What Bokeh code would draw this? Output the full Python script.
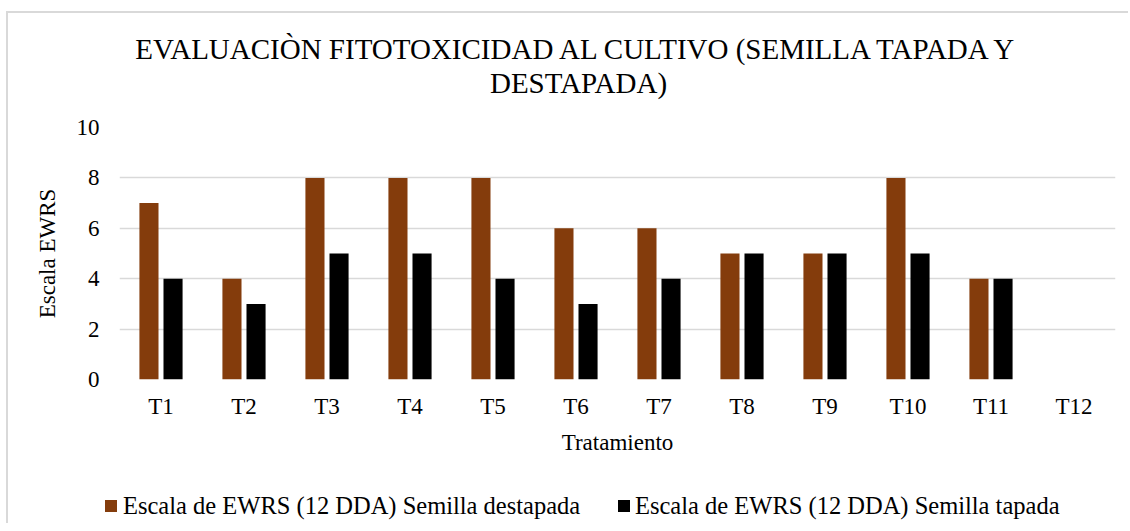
from bokeh.plotting import figure
from bokeh.layouts import column
from bokeh.models import ColumnDataSource, FactorRange, Range1d, SingleIntervalTicker, Div
from bokeh.core.properties import value
from bokeh.transform import dodge
from bokeh.embed import file_html
from bokeh.resources import INLINE

title_lines = ["EVALUACIÒN FITOTOXICIDAD AL CULTIVO (SEMILLA TAPADA Y", "DESTAPADA)"]
categories = ["T1", "T2", "T3", "T4", "T5", "T6", "T7", "T8", "T9", "T10", "T11", "T12"]
destapada = [7, 4, 8, 8, 8, 6, 6, 5, 5, 8, 4, 0]
tapada = [4, 3, 5, 5, 4, 3, 4, 5, 5, 5, 4, 0]
series_names = ["Escala de EWRS (12 DDA) Semilla destapada", "Escala de EWRS (12 DDA) Semilla tapada"]
colors = ["#843C0C", "#000000"]

FONT = "Liberation Serif"
W = 1120
BL, BR = 111, 13  # left/right borders of the plotting frame

# title strip: its frame is aligned with the chart frame, x range in page pixels
tf = figure(x_range=Range1d(8 + BL, 8 + W - BR), y_range=Range1d(0, 100), width=W, height=100,
            output_backend="svg", toolbar_location=None, min_border_left=BL, min_border_right=BR,
            min_border_top=0, min_border_bottom=0, x_axis_location=None, y_axis_location=None)
tf.grid.grid_line_color = None
tf.outline_line_color = None
tsrc = ColumnDataSource(dict(x=[578, 578], y=[65, 31], text=title_lines))
tf.text(x="x", y="y", text="text", source=tsrc, text_font=value(FONT), text_font_size="29px",
        text_align="center", text_baseline="middle", text_color="#000000")

# main chart
src = ColumnDataSource(dict(cat=categories, d=destapada, t=tapada))
p = figure(x_range=FactorRange(*categories, range_padding=0), y_range=(0, 10),
           width=W, height=367, output_backend="svg", toolbar_location=None,
           min_border_left=BL, min_border_right=BR, min_border_top=14, min_border_bottom=101)

p.vbar(x=dodge("cat", -0.145, range=p.x_range), top="d", width=0.23, source=src,
       fill_color=colors[0], line_color=None)
p.vbar(x=dodge("cat", 0.145, range=p.x_range), top="t", width=0.23, source=src,
       fill_color=colors[1], line_color=None)

p.yaxis.ticker = SingleIntervalTicker(interval=2)
p.yaxis.axis_label = "Escala EWRS"
p.xaxis.axis_label = "Tratamiento"
for ax in (p.xaxis, p.yaxis):
    ax.axis_line_color = None
    ax.major_tick_line_color = None
    ax.minor_tick_line_color = None
    ax.major_tick_out = 0
    ax.major_tick_in = 0
    ax.minor_tick_out = 0
    ax.major_label_text_font = FONT
    ax.major_label_text_font_size = "23px"
    ax.major_label_text_color = "#000000"
    ax.axis_label_text_font = FONT
    ax.axis_label_text_font_size = "23px"
    ax.axis_label_text_font_style = "normal"
    ax.axis_label_text_color = "#000000"
p.yaxis.major_label_standoff = 20
p.yaxis.axis_label_standoff = 14
p.xaxis.major_label_standoff = 14
p.xaxis.axis_label_standoff = 8

p.xgrid.grid_line_color = None
p.ygrid.grid_line_color = "#d9d9d9"
p.ygrid.grid_line_width = 1.5
p.outline_line_color = None

# legend (HTML), items built from the series lists
item_pos = [(97, 115), (610, 627)]
parts = []
for (sq, tx), name, col in zip(item_pos, series_names, colors):
    parts.append(f'<span style="position:absolute;left:{sq}px;top:20px;width:12px;height:12px;'
                 f'background:{col};"></span>')
    parts.append(f'<span style="position:absolute;left:{tx}px;top:12px;line-height:28px;'
                 f'white-space:nowrap;">{name}</span>')
legend_html = (f'<div style="position:relative;width:{W}px;height:43px;font-family:\'{FONT}\';'
               f'font-size:24.5px;color:#000000;">' + "".join(parts) + "</div>")
lg = Div(text=legend_html, width=W, height=43, styles={"margin": "0", "padding": "0"})

layout = column(tf, p, lg, spacing=0)
layout.styles = {"border-left": "2px solid #d9d9d9", "border-top": "2px solid #d9d9d9",
                 "margin-left": "6px", "margin-top": "11px"}
open("out.html", "w").write(file_html(layout, INLINE))
